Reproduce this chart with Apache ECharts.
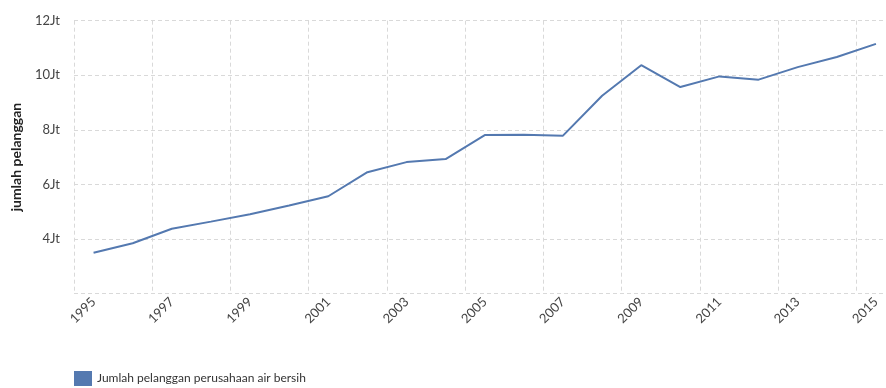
<!DOCTYPE html>
<html>
<head>
<meta charset="utf-8">
<script src="https://cdn.jsdelivr.net/npm/echarts@6/dist/echarts.min.js"></script>
<style>
html,body{margin:0;padding:0;background:#fff;}
#chart{width:886px;height:388px;}
</style>
</head>
<body>
<div id="chart"></div>
<script>
var years = ['1995','1996','1997','1998','1999','2000','2001','2002','2003','2004','2005','2006','2007','2008','2009','2010','2011','2012','2013','2014','2015'];
var customers = [3500000,3850000,4380000,4640000,4910000,5230000,5570000,6450000,6820000,6930000,7810000,7820000,7790000,9250000,10370000,9570000,9960000,9840000,10300000,10670000,11150000];
var seriesName = 'Jumlah pelanggan perusahaan air bersih';
var yAxisName = 'jumlah pelanggan';

var chart = echarts.init(document.getElementById('chart'));
chart.setOption({
  animation: false,
  textStyle: {fontFamily: 'Lato'},
  grid: {left: 74, top: 20.7, bottom: 94.3, right: -9.5, containLabel: false, outerBoundsMode: 'none'},
  legend: {
    left: 74, bottom: 2, padding: 0, itemWidth: 18, itemHeight: 15, itemGap: 10,
    icon: 'rect',
    textStyle: {fontFamily: 'Lato', fontSize: 12, color: '#333'},
    data: [seriesName]
  },
  xAxis: {
    type: 'category',
    data: years,
    boundaryGap: true,
    axisLine: {show: false},
    axisTick: {show: false},
    axisLabel: {rotate: 45, interval: 1, fontSize: 13, color: '#444', margin: 6, fontFamily: 'Lato'},
    splitLine: {show: true, interval: 1, lineStyle: {type: [4,3], color: '#d9d9d9', width: 1}}
  },
  yAxis: {
    type: 'value',
    min: 2000000, max: 12000000, interval: 2000000,
    name: yAxisName,
    nameLocation: 'middle',
    nameGap: 51,
    nameRotate: 90,
    nameTextStyle: {fontFamily: 'Lato', fontSize: 14, color: '#222', fontWeight: 'bold'},
    axisLine: {show: false},
    axisTick: {show: false},
    axisLabel: {
      margin: 14, fontSize: 13, color: '#444', fontFamily: 'Lato',
      formatter: function(v){ return v === 2000000 ? '' : (v/1000000) + 'Jt'; }
    },
    splitLine: {show: true, lineStyle: {type: [4,3], color: '#d9d9d9', width: 1}}
  },
  series: [{
    name: seriesName,
    type: 'line',
    data: customers,
    symbol: 'none',
    smooth: false,
    lineStyle: {color: '#5479b0', width: 2},
    itemStyle: {color: '#5479b0'}
  }]
});
</script>
</body>
</html>
